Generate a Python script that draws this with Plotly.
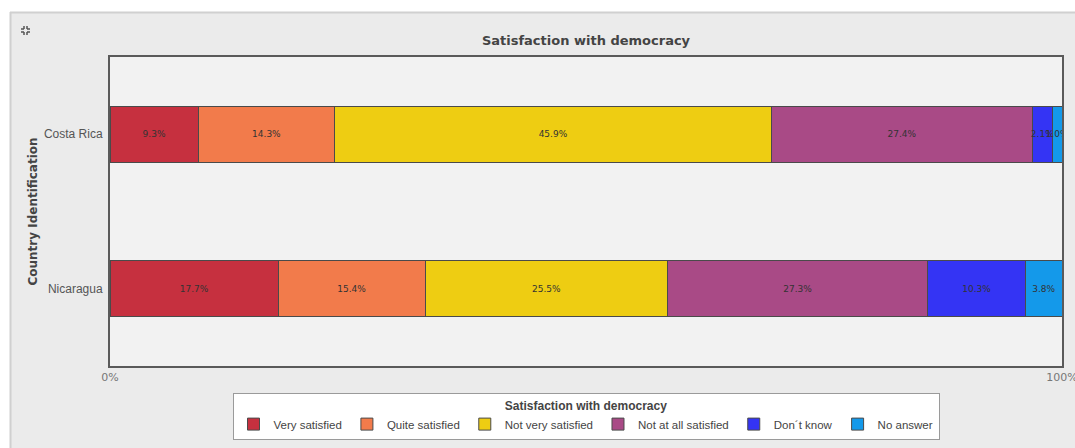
import plotly.graph_objects as go

countries = ["Costa Rica", "Nicaragua"]
categories = ["Very satisfied", "Quite satisfied", "Not very satisfied",
              "Not at all satisfied", "Don\u00b4t know", "No answer"]
very_satisfied = [9.3, 17.7]
quite_satisfied = [14.3, 15.4]
not_very_satisfied = [45.9, 25.5]
not_at_all_satisfied = [27.4, 27.3]
dont_know = [2.1, 10.3]
no_answer = [1.0, 3.8]
series = [very_satisfied, quite_satisfied, not_very_satisfied,
          not_at_all_satisfied, dont_know, no_answer]
colors = ["#c6303f", "#f27b4b", "#eecd12", "#a94a86", "#3434f4", "#1499ea"]
x_ticks = [0, 100]
x_tick_labels = ["0%", "100%"]

W, H = 1075, 448
L, R, T, B = 110, 13, 57, 82

fig = go.Figure()
for name, vals, col in zip(categories, series, colors):
    fig.add_trace(go.Bar(
        y=countries, x=vals, name=name, orientation="h",
        marker=dict(color=col, line=dict(color="#4a4a4a", width=1)),
        texttemplate="%{x:.1f}%", textposition="inside",
        insidetextanchor="middle", textangle=0,
        textfont=dict(family="DejaVu Sans", size=9, color="#333333"),
        width=0.36,
    ))

pw = W - L - R
ph = H - T - B
def px(x):
    return (x - L) / pw
def py(y):
    return (H - B - y) / ph

def seg(x0, y0, x1, y1):
    return dict(type="line", xref="paper", yref="paper",
                x0=px(x0), x1=px(x1), y0=py(y0), y1=py(y1),
                line=dict(color="#555555", width=1.5), layer="above")

icon = [
    seg(21, 29, 24, 29), seg(24, 26, 24, 29),
    seg(27, 29, 30, 29), seg(27, 26, 27, 29),
    seg(21, 32, 24, 32), seg(24, 32, 24, 35),
    seg(27, 32, 30, 32), seg(27, 32, 27, 35),
]

fig.update_layout(
    width=W, height=H,
    margin=dict(l=L, r=R, t=T, b=B, pad=0, autoexpand=False),
    barmode="stack",
    paper_bgcolor="#ebebeb",
    plot_bgcolor="#f2f2f2",
    uniformtext=dict(minsize=9, mode="show"),
    title=dict(text="<b>Satisfaction with democracy</b>", x=0.5, xref="paper",
               y=1 - 40 / H, yanchor="middle",
               font=dict(family="DejaVu Sans", size=13, color="#444444")),
    xaxis=dict(range=[0, 100], tickvals=x_ticks, ticktext=x_tick_labels,
               showgrid=False, zeroline=False, showline=True, mirror=True,
               linecolor="#5a5a5a", linewidth=2, ticks="",
               ticklabeloverflow="allow", automargin=False,
               tickfont=dict(family="DejaVu Sans", size=11, color="#777777")),
    yaxis=dict(autorange="reversed", showgrid=False, zeroline=False,
               showline=True, mirror=True, linecolor="#5a5a5a", linewidth=2,
               ticks="", ticklabelstandoff=3, automargin=False,
               title=dict(text="<b>Country Identification</b>", standoff=4,
                          font=dict(family="DejaVu Sans", size=12, color="#444444")),
               tickfont=dict(family="Liberation Sans", size=12, color="#555555")),
    legend=dict(orientation="h", x=0.5, xanchor="center", y=py(393), yanchor="top",
                bgcolor="#ffffff", bordercolor="#9a9a9a", borderwidth=1,
                title=dict(text="<b>Satisfaction with democracy</b>", side="top center",
                           font=dict(family="Liberation Sans", size=12, color="#444444")),
                font=dict(family="Liberation Sans", size=11.5, color="#444444"),
                traceorder="normal", itemwidth=30, tracegroupgap=0),
    shapes=[
        dict(type="rect", xref="paper", yref="paper", x0=px(0), x1=px(W + 5),
             y0=py(0), y1=py(12), fillcolor="#ffffff", line=dict(width=0), layer="above"),
        dict(type="rect", xref="paper", yref="paper", x0=px(0), x1=px(10),
             y0=py(H + 5), y1=py(0), fillcolor="#ffffff", line=dict(width=0), layer="above"),
        dict(type="line", xref="paper", yref="paper", x0=px(10), x1=px(W + 5),
             y0=py(12.5), y1=py(12.5), line=dict(color="#d0d0d0", width=2)),
        dict(type="line", xref="paper", yref="paper", x0=px(10.5), x1=px(10.5),
             y0=py(12), y1=py(H + 5), line=dict(color="#d0d0d0", width=2)),
    ] + icon,
)

fig.write_html("out.html")
